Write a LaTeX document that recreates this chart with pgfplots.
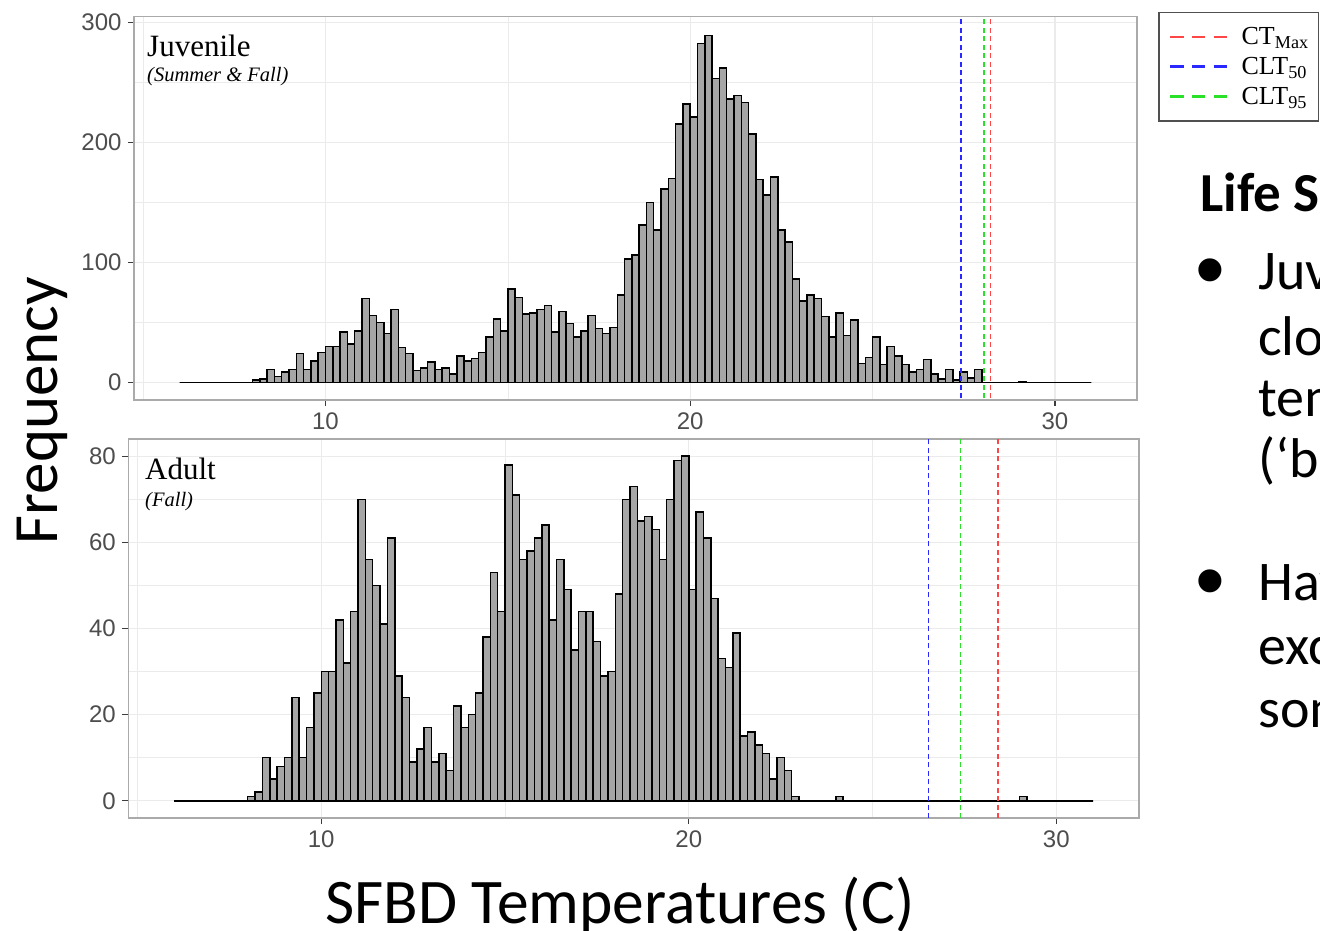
\documentclass[border=0pt]{standalone}
\usepackage{pgfplots}
\usepackage{pgfplotstable}
\pgfplotsset{compat=1.18}
\usepackage{fontspec}
\setmainfont{Liberation Sans}
\newfontfamily\timesf{Liberation Serif}
\newfontfamily\calib{Carlito}
\definecolor{barfill}{RGB}{166,166,166}
\definecolor{framecol}{RGB}{170,170,170}
\definecolor{gridcol}{RGB}{235,235,235}
\definecolor{tickcol}{RGB}{77,77,77}
\definecolor{tickmark}{RGB}{60,60,60}
\definecolor{vred}{RGB}{255,70,70}
\definecolor{vblue}{RGB}{40,40,255}
\definecolor{vgreen}{RGB}{40,225,40}
\definecolor{legframe}{RGB}{80,80,80}

% Juvenile (Summer & Fall): bin centres (width 0.2) and counts
\pgfplotstableread{
x y
6.1 0
6.3 0
6.5 0
6.7 0
6.9 0
7.1 0
7.3 0
7.5 0
7.7 0
7.9 0
8.1 2
8.3 3
8.5 11
8.7 5
8.9 9
9.1 11
9.3 24
9.5 11
9.7 18
9.9 25
10.1 30
10.3 30
10.5 42
10.7 32
10.9 43
11.1 70
11.3 56
11.5 50
11.7 41
11.9 61
12.1 29
12.3 24
12.5 10
12.7 12
12.9 17
13.1 11
13.3 12
13.5 7
13.7 22
13.9 18
14.1 20
14.3 25
14.5 38
14.7 53
14.9 43
15.1 78
15.3 71
15.5 57
15.7 58
15.9 61
16.1 64
16.3 42
16.5 59
16.7 49
16.9 38
17.1 43
17.3 56
17.5 45
17.7 41
17.9 46
18.1 73
18.3 103
18.5 106
18.7 131
18.9 150
19.1 127
19.3 161
19.5 170
19.7 215
19.9 232
20.1 221
20.3 282
20.5 289
20.7 253
20.9 262
21.1 236
21.3 239
21.5 233
21.7 207
21.9 169
22.1 156
22.3 171
22.5 127
22.7 117
22.9 86
23.1 68
23.3 73
23.5 70
23.7 55
23.9 38
24.1 58
24.3 39
24.5 52
24.7 16
24.9 21
25.1 38
25.3 15
25.5 30
25.7 22
25.9 15
26.1 9
26.3 11
26.5 19
26.7 7
26.9 3
27.1 11
27.3 2
27.5 9
27.7 4
27.9 11
28.1 0
28.3 0
28.5 0
28.7 0
28.9 0
29.1 1
29.3 0
29.5 0
29.7 0
29.9 0
30.1 0
30.3 0
30.5 0
30.7 0
30.9 0
}\juv

% Adult (Fall)
\pgfplotstableread{
x y
6.1 0
6.3 0
6.5 0
6.7 0
6.9 0
7.1 0
7.3 0
7.5 0
7.7 0
7.9 0
8.1 1
8.3 2
8.5 10
8.7 5
8.9 8
9.1 10
9.3 24
9.5 10
9.7 17
9.9 25
10.1 30
10.3 30
10.5 42
10.7 32
10.9 44
11.1 70
11.3 56
11.5 50
11.7 41
11.9 61
12.1 29
12.3 24
12.5 9
12.7 12
12.9 17
13.1 9
13.3 11
13.5 7
13.7 22
13.9 17
14.1 20
14.3 25
14.5 38
14.7 53
14.9 44
15.1 78
15.3 71
15.5 56
15.7 58
15.9 61
16.1 64
16.3 42
16.5 56
16.7 49
16.9 35
17.1 44
17.3 44
17.5 37
17.7 29
17.9 30
18.1 48
18.3 70
18.5 73
18.7 65
18.9 66
19.1 63
19.3 56
19.5 70
19.7 79
19.9 80
20.1 49
20.3 67
20.5 61
20.7 47
20.9 33
21.1 31
21.3 39
21.5 15
21.7 16
21.9 13
22.1 11
22.3 5
22.5 10
22.7 7
22.9 1
23.1 0
23.3 0
23.5 0
23.7 0
23.9 0
24.1 1
24.3 0
24.5 0
24.7 0
24.9 0
25.1 0
25.3 0
25.5 0
25.7 0
25.9 0
26.1 0
26.3 0
26.5 0
26.7 0
26.9 0
27.1 0
27.3 0
27.5 0
27.7 0
27.9 0
28.1 0
28.3 0
28.5 0
28.7 0
28.9 0
29.1 1
29.3 0
29.5 0
29.7 0
29.9 0
30.1 0
30.3 0
30.5 0
30.7 0
30.9 0
}\adu

\pgfplotsset{
  hist/.style={
    scale only axis,
    xmin=4.75, xmax=32.25,
    xtick={10,20,30}, minor xtick={5,15,25},
    tick pos=left,
    grid=both,
    major grid style={gridcol, line width=1.1pt},
    minor grid style={gridcol, line width=0.55pt},
    axis line style={framecol, line width=1.3pt},
    tick align=outside,
    major tick length=6pt, minor tick length=0pt,
    tick style={tickmark, line width=1.1pt},
    every tick label/.append style={text=tickcol},
    xticklabel style={font=\fontsize{24}{24}\selectfont, yshift=-3pt},
    yticklabel style={font=\fontsize{24}{24}\selectfont, xshift=-3pt},
    /pgf/number format/assume math mode=true,
  },
  bars/.style={ybar, bar width=0.2, bar shift=0pt, fill=barfill, draw=black, line width=1.5pt, forget plot},
  vl/.style={line width=1.7pt, dash pattern=on 5pt off 3.5pt},
}

\begin{document}
\begin{tikzpicture}[x=1pt,y=1pt]
\useasboundingbox (0,0) rectangle (1320,931);
\clip (0,0) rectangle (1320,931);
\fill[white] (0,0) rectangle (1320,931);

% ---- Juvenile panel ----
\begin{axis}[hist,
  at={(134pt,531pt)}, anchor=south west,
  width=1003pt, height=383.3pt,
  ymin=-14.5, ymax=304.5,
  ytick={0,100,200,300}, minor ytick={50,150,250},
  legend style={at={(1.021,1.0123)}, anchor=north west, draw=legframe, line width=1.5pt, fill=white,
    font=\timesf\fontsize{26}{28}\selectfont, inner xsep=10pt, inner ysep=15pt, row sep=11pt, column sep=13pt,
    nodes={inner sep=0pt}},
  legend cell align=left,
  legend image code/.code={\draw[#1, line width=2.8pt, dash pattern=on 13.5pt off 8.25pt] (0pt,0pt) -- (57pt,0pt);},
]
\addplot[bars] table[x=x,y=y] {\juv};
\addplot[vl, vred] coordinates {(28.23,-20) (28.23,320)};
\addlegendentry{CT\textsubscript{Max}}
\addplot[vl, vblue] coordinates {(27.42,-20) (27.42,320)};
\addlegendentry{CLT\textsubscript{50}}
\addplot[vl, vgreen] coordinates {(28.05,-20) (28.05,320)};
\addlegendentry{CLT\textsubscript{95}}
\end{axis}

% ---- Adult panel ----
\begin{axis}[hist,
  at={(128.3pt,113pt)}, anchor=south west,
  width=1010.7pt, height=379pt,
  ymin=-4, ymax=84,
  ytick={0,20,40,60,80}, minor ytick={10,30,50,70},
]
\addplot[bars] table[x=x,y=y] {\adu};
\addplot[vl, vred] coordinates {(28.42,-10) (28.42,100)};
\addplot[vl, vblue] coordinates {(26.52,-10) (26.52,100)};
\addplot[vl, vgreen] coordinates {(27.39,-10) (27.39,100)};
\end{axis}

% panel labels
\node[anchor=base west, inner sep=0pt, font=\timesf\fontsize{31}{31}\selectfont] at (147,874) {Juvenile};
\node[anchor=base west, inner sep=0pt, font=\timesf\itshape\fontsize{20.5}{20.5}\selectfont] at (147,849) {(Summer \& Fall)};
\node[anchor=base west, inner sep=0pt, font=\timesf\fontsize{31}{31}\selectfont] at (145,451) {Adult};
\node[anchor=base west, inner sep=0pt, font=\timesf\itshape\fontsize{20.5}{20.5}\selectfont] at (145,424) {(Fall)};

% axis titles (slide text)
\node[anchor=base, rotate=90, inner sep=0pt, font=\calib\fontsize{63}{63}\selectfont] at (57,520.5) {Frequency};
\node[anchor=base, inner sep=0pt, font=\calib\fontsize{63.5}{63.5}\selectfont] at (620,7) {SFBD Temperatures (C)};

% slide text on the right (cut off by the picture edge)
\node[anchor=base west, inner sep=0pt, font=\calib\bfseries\fontsize{55}{55}\selectfont] at (1200,719) {Life S};
\begin{scope}[every node/.style={anchor=base west, inner sep=0pt, font=\calib\fontsize{56}{56}\selectfont}]
\node[font=\fontsize{85}{85}\selectfont] at (1195,632) {•};
\node at (1258,641) {Juveniles};
\node at (1258,575) {close};
\node at (1258,514) {temperatures};
\node at (1258,453) {(‘buffer};
\node[font=\fontsize{85}{85}\selectfont] at (1195,321) {•};
\node at (1258,330) {Have};
\node at (1258,266) {exceed};
\node at (1258,203) {some};
\end{scope}
\end{tikzpicture}
\end{document}
